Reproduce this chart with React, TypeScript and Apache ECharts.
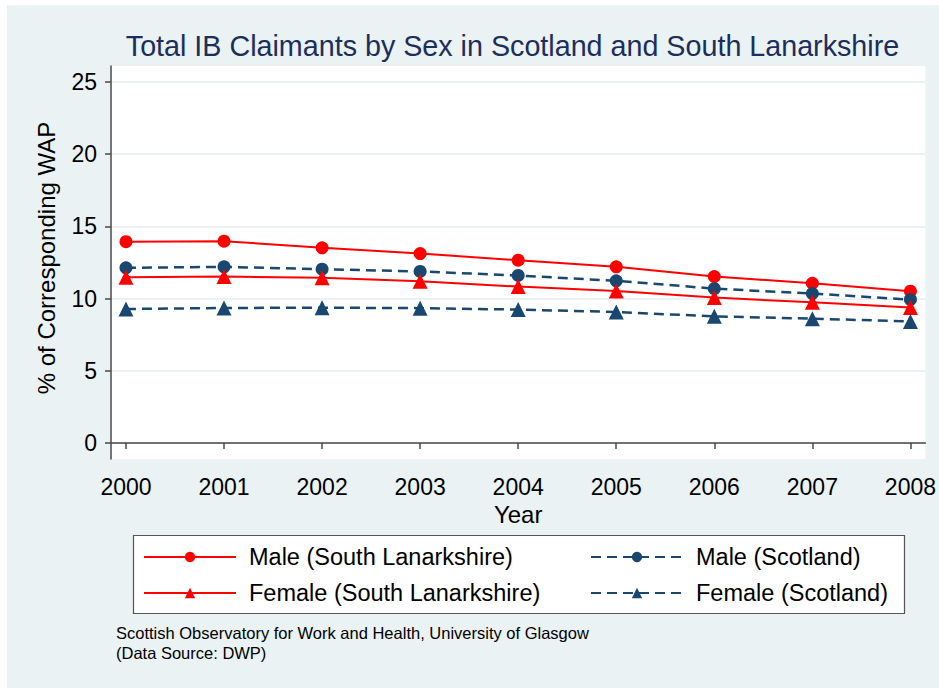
import React, { useEffect, useRef } from "react";
import * as echarts from "echarts";

const years = [2000, 2001, 2002, 2003, 2004, 2005, 2006, 2007, 2008];
const maleSouthLanarkshire = [13.94, 13.98, 13.52, 13.12, 12.66, 12.2, 11.53, 11.06, 10.51];
const maleScotland = [12.13, 12.2, 12.04, 11.88, 11.6, 11.23, 10.69, 10.35, 9.93];
const femaleSouthLanarkshire = [11.48, 11.53, 11.44, 11.2, 10.83, 10.53, 10.07, 9.74, 9.38];
const femaleScotland = [9.28, 9.35, 9.37, 9.34, 9.24, 9.07, 8.77, 8.61, 8.42];
const yTicks = [0, 5, 10, 15, 20, 25];
const seriesNames = [
  "Male (South Lanarkshire)",
  "Male (Scotland)",
  "Female (South Lanarkshire)",
  "Female (Scotland)",
];
const titleText = "Total IB Claimants by Sex in Scotland and South Lanarkshire";
const yTitle = "% of Corresponding WAP";
const xTitle = "Year";
const noteLines = [
  "Scottish Observatory for Work and Health, University of Glasgow",
  "(Data Source: DWP)",
];

const RED = "#ff0000";
const NAVY = "#1a476f";
const BG = "#eaf2f3";
const FONT = "'Liberation Sans', Arial, Helvetica, sans-serif";

export default function App() {
  const ref = useRef<HTMLDivElement>(null);
  useEffect(() => {
    document.body.style.margin = "0";
    const chart = echarts.init(ref.current!, null, { renderer: "svg" });
    const pair = (vals: number[]) => years.map((y, i) => [y, vals[i]]);
    const mk = (
      name: string,
      vals: number[],
      color: string,
      symbol: string,
      dashed: boolean
    ) => ({
      name,
      type: "line",
      data: pair(vals),
      symbol,
      symbolSize: symbol === "circle" ? 13 : 15,
      itemStyle: { color },
      lineStyle: {
        color,
        width: dashed ? 2.5 : 2,
        type: dashed ? [10, 6] : "solid",
      },
      z: 3,
    });
    const legendPos = [
      { left: 143, top: 545 },
      { left: 590, top: 545 },
      { left: 143, top: 581 },
      { left: 590, top: 581 },
    ];
    chart.setOption({
      animation: false,
      backgroundColor: "#ffffff",
      textStyle: { fontFamily: FONT },
      graphic: [
        {
          type: "rect",
          shape: { x: 7, y: 5, width: 932, height: 683 },
          style: { fill: BG },
          z: -10,
          silent: true,
        },
        {
          type: "rect",
          shape: { x: 133.5, y: 535.5, width: 771, height: 78 },
          style: { fill: "#ffffff", stroke: "#555555", lineWidth: 1.2 },
          z: 0,
          silent: true,
        },
        {
          type: "text",
          x: 512.5,
          y: 46,
          style: {
            text: titleText,
            fill: "#1c2e5b",
            font: `28.7px ${FONT}`,
            textAlign: "center",
            textVerticalAlign: "middle",
          },
        },
        ...noteLines.map((line, i) => ({
          type: "text",
          x: 116,
          y: 632.5 + i * 20,
          style: {
            text: line,
            fill: "#000000",
            font: `16.5px ${FONT}`,
            textAlign: "left",
            textVerticalAlign: "middle",
          },
        })),
      ],
      grid: {
        left: 111,
        top: 66,
        width: 816,
        height: 393,
        show: true,
        backgroundColor: "#ffffff",
        borderWidth: 0,
      },
      xAxis: {
        type: "value",
        min: 2000 - 15 / 98.25,
        max: 2008 + 15 / 98.25,
        name: xTitle,
        nameLocation: "middle",
        nameGap: 36,
        nameTextStyle: { fontSize: 24, color: "#000", fontFamily: FONT },
        axisLine: { show: true, lineStyle: { color: "#4a4a4a", width: 1.5 } },
        axisTick: {
          show: true,
          length: 6,
          lineStyle: { color: "#4a4a4a", width: 1.5 },
          customValues: years,
        },
        axisLabel: {
          customValues: years,
          fontSize: 23,
          color: "#000",
          margin: 16,
          fontFamily: FONT,
          formatter: (v: number) => String(Math.round(v)),
        },
        splitLine: { show: false },
      },
      yAxis: {
        type: "value",
        min: -16 / 14.44,
        max: 377 / 14.44,
        name: yTitle,
        nameLocation: "middle",
        nameGap: 53,
        nameRotate: 90,
        nameTextStyle: {
          fontSize: 24,
          color: "#000",
          fontFamily: FONT,
          padding: [0, 0, 0, 9],
        },
        axisLine: { show: true, lineStyle: { color: "#4a4a4a", width: 1.5 } },
        axisTick: {
          show: true,
          length: 6,
          lineStyle: { color: "#4a4a4a", width: 1.5 },
          customValues: yTicks,
        },
        axisLabel: {
          customValues: yTicks,
          fontSize: 23,
          color: "#000",
          margin: 14,
          fontFamily: FONT,
          formatter: (v: number) => String(Math.round(v)),
        },
        splitLine: { show: true, lineStyle: { color: BG, width: 2 } },
      },
      legend: seriesNames.map((n, i) => ({
        data: [n],
        left: legendPos[i].left,
        top: legendPos[i].top,
        itemWidth: 92,
        itemHeight: 13,
        padding: 0,
        selectedMode: false,
        textStyle: {
          fontSize: 23.5,
          color: "#000",
          fontFamily: FONT,
          padding: [0, 0, 0, 8],
        },
        z: 5,
      })),
      series: [
        mk(seriesNames[0], maleSouthLanarkshire, RED, "circle", false),
        mk(seriesNames[1], maleScotland, NAVY, "circle", true),
        mk(seriesNames[2], femaleSouthLanarkshire, RED, "triangle", false),
        mk(seriesNames[3], femaleScotland, NAVY, "triangle", true),
      ],
    });
    return () => chart.dispose();
  }, []);
  return (
    <div
      ref={ref}
      style={{ position: "absolute", left: 0, top: 0, width: 939, height: 688 }}
    />
  );
}
